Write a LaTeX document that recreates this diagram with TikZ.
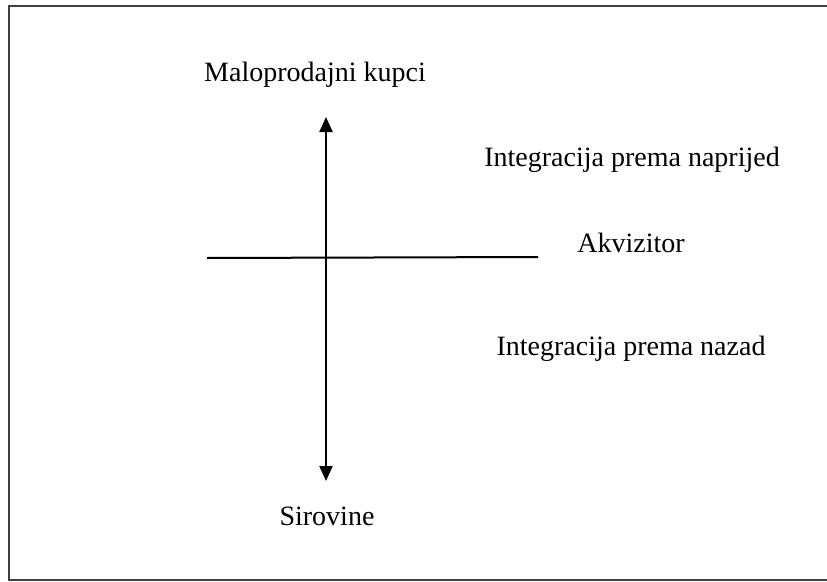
\documentclass[tikz,border=0pt]{standalone}
\usepackage{fontspec}
\setmainfont{Liberation Serif}
\usepackage{tikz}
\usetikzlibrary{arrows.meta,positioning,calc}

\begin{document}
\begin{tikzpicture}[x=1pt, y=-1pt, >={Triangle[length=15pt,width=13pt]},
  lbl/.style={font=\fontsize{28}{33}\selectfont, inner sep=0pt}]
\useasboundingbox (0,0) rectangle (827,581);
% frame
\draw[line width=1.5pt, black!75] (828,6) -- (9,6) -- (9,580) -- (828,580);
% axes
\coordinate (top) at (326,117);
\coordinate (bot) at (326,481);
\coordinate (left) at (207,258);
\coordinate (right) at (538,257);
\draw[line width=2pt, <->] (bot) -- (top);
\draw[line width=2pt] (left) -- (right);
% labels
\node (kupci) [lbl] at (315,75) {Maloprodajni kupci};
\node (sirovine) [lbl] at (327,516) {Sirovine};
\node (naprijed) [lbl] at (632,160) {Integracija prema naprijed};
\node (akvizitor) [lbl] at (631,243) {Akvizitor};
\node (nazad) [lbl] at (631,349) {Integracija prema nazad};
\end{tikzpicture}
\end{document}
